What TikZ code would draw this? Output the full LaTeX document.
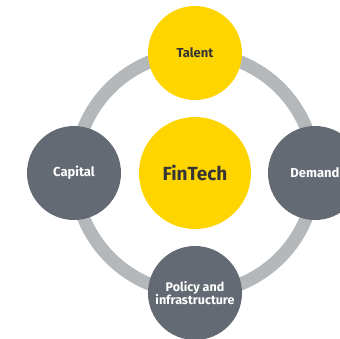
\documentclass[tikz,border=0pt]{standalone}
\usepackage{fontspec}
\setmainfont{Fira Sans}

\definecolor{fintechyellow}{HTML}{FFD500}
\definecolor{driverslate}{HTML}{646A74}
\definecolor{ringgrey}{HTML}{B5B8BB}
\definecolor{labelink}{HTML}{363636}

\begin{document}
\begin{tikzpicture}[x=1pt, y=1pt,
                    driver/.style={circle, minimum size=94pt, inner sep=0pt},
                    core/.style={circle, minimum size=112pt, inner sep=0pt,
                                 fill=fintechyellow, text=labelink,
                                 font=\fontsize{19pt}{22pt}\bfseries\selectfont},
                    talentdriver/.style={driver, fill=fintechyellow, text=labelink},
                    slatedriver/.style={driver, fill=driverslate, text=white},
                    font=\fontsize{13pt}{15pt}\bfseries\selectfont]
  \useasboundingbox (-195, -165) rectangle (145, 173);
  \clip (-195, -165) rectangle (145, 173);

  % Ring behind the drivers.
  \coordinate (hub) at (0, 0);
  \draw [ringgrey, line width=13pt] (hub) circle [radius=120];

  % Centre.
  \node at (hub) [core, name=FinTech] {FinTech};

  % Drivers round the ring.
  \node at (0, 120) [talentdriver, name=Talent] {Talent};
  \node at (-121, 0) [slatedriver, name=Capital] {Capital};
  \node at (120, 0) [slatedriver, name=Demand] {Demand};
  \node at (0, -120) [slatedriver, align=center, name=Policy,
                      font=\fontsize{12.5pt}{13pt}\bfseries\selectfont] {Policy and\\infrastructure};
\end{tikzpicture}
\end{document}
